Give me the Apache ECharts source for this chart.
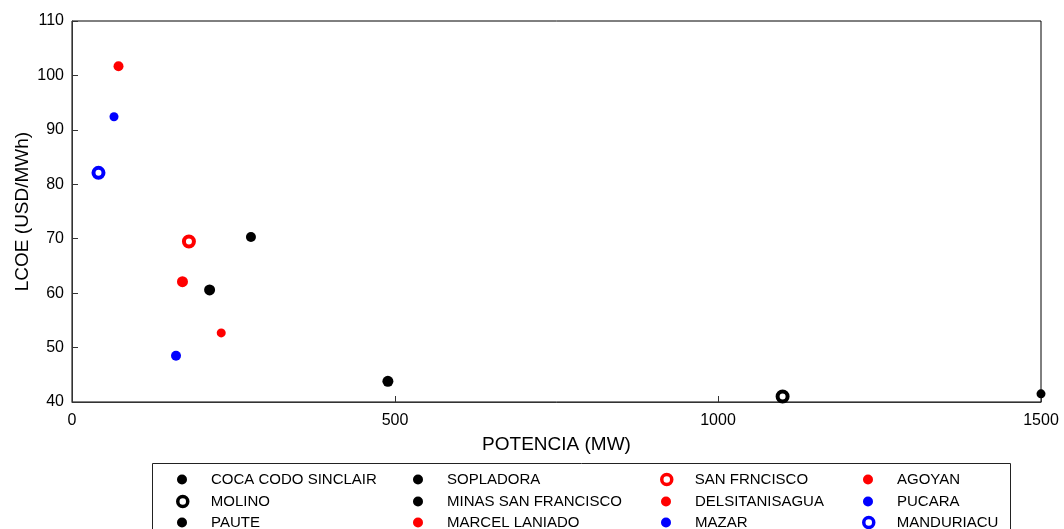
<!DOCTYPE html>
<html>
<head>
<meta charset="UTF-8">
<title>LCOE vs Potencia</title>
<script src="https://cdn.jsdelivr.net/npm/echarts@6/dist/echarts.min.js"></script>
</head>
<body style="margin:0">
<div id="main" style="width:1064px;height:529px;"></div>
<script type="text/javascript">
var plantas = ['COCA CODO SINCLAIR','MOLINO','PAUTE','SOPLADORA','MINAS SAN FRANCISCO','MARCEL LANIADO',
               'SAN FRNCISCO','DELSITANISAGUA','MAZAR','AGOYAN','PUCARA','MANDURIACU'];
var potencia = [1500, 1100, 213, 489, 277, 231, 181, 171, 161, 72, 65, 41];
var lcoe = [41.5, 41.0, 60.6, 43.8, 70.3, 52.7, 69.5, 62.1, 48.5, 101.7, 92.4, 82.1];
var xTicks = [0, 500, 1000, 1500];
var yTicks = [40, 50, 60, 70, 80, 90, 100, 110];

// marker look per plant (color, ring or filled, size)
var estilo = [
    {c:'#000', ring:false, s:9},
    {c:'#000', ring:true,  s:10},
    {c:'#000', ring:false, s:11},
    {c:'#000', ring:false, s:11},
    {c:'#000', ring:false, s:10},
    {c:'#f00', ring:false, s:9},
    {c:'#f00', ring:true,  s:10},
    {c:'#f00', ring:false, s:11},
    {c:'#00f', ring:false, s:10},
    {c:'#f00', ring:false, s:10},
    {c:'#00f', ring:false, s:9},
    {c:'#00f', ring:true,  s:10}
];

var font = 'Liberation Sans, Arial, sans-serif';
var myChart = echarts.init(document.getElementById('main'));

function markStyle(e){
    return e.ring ? {color:'#fff', borderColor:e.c, borderWidth:4, opacity:1}
                  : {color:e.c, opacity:1};
}

var series = plantas.map(function(name, i){
    var e = estilo[i];
    return {
        name: name,
        type: 'scatter',
        symbol: 'circle',
        symbolSize: e.s,
        itemStyle: markStyle(e),
        data: [[potencia[i], lcoe[i]]]
    };
});

// legend laid out in 4 columns x 3 rows, one legend per entry
var colLeft = [177, 413, 661, 863];
var rowTop = [472, 494, 515];
var legends = plantas.map(function(n, i){
    var e = estilo[i];
    return {
        orient: 'vertical',
        left: colLeft[Math.floor(i / 3)] - (e.ring ? 1 : 0),
        top: rowTop[i % 3],
        padding: 0,
        itemWidth: 40,
        itemHeight: 10,
        selectedMode: false,
        textStyle: {fontFamily: font, fontSize: 15, color: '#000', padding: [0, 0, 0, e.ring ? 3 : 4]},
        data: [{name: n, itemStyle: e.ring ? {color:'#fff', borderColor:e.c, borderWidth:3.5} : {color:e.c, borderWidth:0}}]
    };
});

option = {
    animation: false,
    backgroundColor: '#fff',
    grid: {left: 72, right: 23, top: 21, bottom: 127, show: true, borderColor: '#000', borderWidth: 1,
           outerBoundsMode: 'none', containLabel: false},
    xAxis: {
        type: 'value', min: xTicks[0], max: xTicks[xTicks.length-1], interval: 500,
        name: 'POTENCIA (MW)', nameLocation: 'middle', nameGap: 33,
        nameTextStyle: {fontFamily: font, fontSize: 19, color: '#000'},
        axisLine: {lineStyle: {color: '#333'}},
        axisTick: {inside: true, length: 6, lineStyle: {color: '#333'}},
        axisLabel: {fontFamily: font, fontSize: 16, color: '#000', margin: 11,
                    formatter: function(v){ return String(v); }},
        splitLine: {show: false}
    },
    yAxis: {
        type: 'value', min: yTicks[0], max: yTicks[yTicks.length-1], interval: 10,
        name: 'LCOE (USD/MWh)', nameLocation: 'middle', nameGap: 40, nameMoveOverlap: false,
        nameTextStyle: {fontFamily: font, fontSize: 19, color: '#000'},
        axisLine: {show: true, lineStyle: {color: '#333'}},
        axisTick: {show: true, inside: true, length: 6, lineStyle: {color: '#333'}},
        axisLabel: {fontFamily: font, fontSize: 16, color: '#000', margin: 8},
        splitLine: {show: false}
    },
    legend: legends,
    graphic: [{
        type: 'rect',
        shape: {x: 152.5, y: 463.5, width: 858, height: 80},
        style: {fill: 'none', stroke: '#222', lineWidth: 1}
    }],
    series: series
};
myChart.setOption(option);
</script>
</body>
</html>
